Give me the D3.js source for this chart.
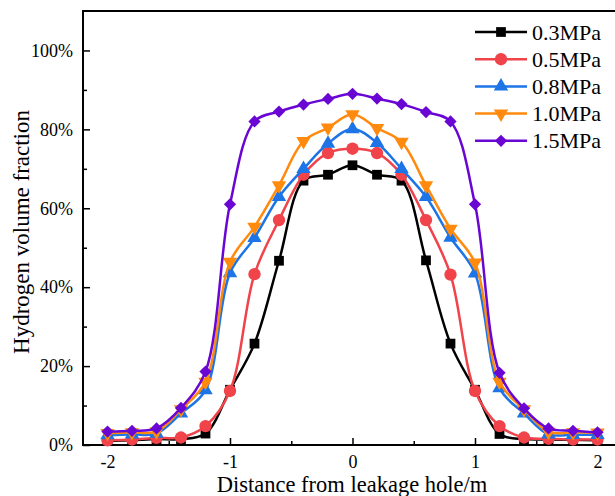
<!DOCTYPE html>
<html lang="en">
  <head>
    <meta charset="utf-8">
    <title>Hydrogen volume fraction</title>
    <script src="https://d3js.org/d3.v7.min.js"></script>
    <style>
      body{ margin:0; background:#fff; }
      text{ font-family:"Liberation Serif","Times New Roman",serif; fill:#000; }
    </style>
  </head>
  <body>
<svg id="chart"></svg>
<script>
// distance from leakage hole (m)
var distance = [-2,-1.8,-1.6,-1.4,-1.2,-1,-0.8,-0.6,-0.4,-0.2,0,0.2,0.4,0.6,0.8,1,1.2,1.4,1.6,1.8,2];
var seriesNames = ["0.3MPa","0.5MPa","0.8MPa","1.0MPa","1.5MPa"];
// hydrogen volume fraction, %
var p03 = [1.0,1.2,1.5,1.5,2.9,14.0,25.7,46.7,67.0,68.5,70.9,68.5,67.0,46.8,25.7,14.0,2.8,1.5,1.4,1.3,1.2];
var p05 = [1.2,1.4,1.8,1.9,4.8,13.7,43.3,57.0,68.5,74.0,75.1,74.0,68.5,57.0,43.2,13.7,4.8,1.9,1.6,1.4,1.4];
var p08 = [2.5,2.7,2.9,8.0,13.9,43.6,52.5,62.9,70.0,76.4,80.1,76.6,70.0,62.9,52.6,43.5,14.4,8.0,2.7,2.6,2.6];
var p10 = [3.0,3.2,3.4,9.0,16.0,46.4,55.3,65.8,77.0,80.4,83.8,80.3,76.8,65.8,54.8,46.2,16.0,9.0,3.3,3.2,3.1];
var p15 = [3.4,3.6,4.2,9.4,18.6,61.0,82.0,84.5,86.3,87.7,89.0,87.8,86.4,84.4,82.0,61.0,18.3,9.3,4.2,3.6,3.2];
var xTicks = [-2,-1,0,1,2];
var yTicks = [0,20,40,60,80,100];

var colors = ["#000000","#f0434a","#1c74e6","#ff8a0d","#6a06d4"];
var shapes = ["square","circle","triangle","down","diamond"];

var width = 615, height = 496;
var plotLeft = 83, plotTop = 11, plotBottom = 445, plotRight = 622;

var svg = d3.select("#chart").attr("width",width).attr("height",height);

var x = d3.scaleLinear().domain([-2.2,2.2]).range([plotLeft,plotRight]);
var y = d3.scaleLinear().domain([0,110]).range([plotBottom,plotTop]);

// minor ticks
svg.append("g")
   .attr("transform","translate(0,"+plotBottom+")")
   .call(d3.axisBottom(x).tickValues([-1.5,-0.5,0.5,1.5]).tickSize(-4).tickFormat(""))
   .call(function(g){ g.select(".domain").remove(); g.selectAll("line").attr("stroke-width",1.5); });
svg.append("g")
   .attr("transform","translate("+plotLeft+",0)")
   .call(d3.axisLeft(y).tickValues([10,30,50,70,90]).tickSize(-4).tickFormat(""))
   .call(function(g){ g.select(".domain").remove(); g.selectAll("line").attr("stroke-width",1.5); });

// major ticks
svg.append("g")
   .attr("transform","translate(0,"+plotBottom+")")
   .call(d3.axisBottom(x).tickValues(xTicks).tickSize(-7).tickPadding(10).tickFormat(function(d){ return String(d); }))
   .call(function(g){
     g.select(".domain").remove();
     g.selectAll("line").attr("stroke-width",1.5);
     g.selectAll("text").attr("font-size",18).attr("font-family","Liberation Serif");
   });
svg.append("g")
   .attr("transform","translate("+plotLeft+",0)")
   .call(d3.axisLeft(y).tickValues(yTicks).tickSize(-7).tickPadding(10).tickFormat(function(d){ return d+"%"; }))
   .call(function(g){
     g.select(".domain").remove();
     g.selectAll("line").attr("stroke-width",1.5);
     g.selectAll("text").attr("font-size",18).attr("font-family","Liberation Serif");
   });

// frame
svg.append("rect")
   .attr("x",plotLeft).attr("y",plotTop)
   .attr("width",plotRight-plotLeft).attr("height",plotBottom-plotTop)
   .attr("fill","none").attr("stroke","#000").attr("stroke-width",2);

function symbolPath(shape){
  if(shape==="square") return d3.symbol(d3.symbolSquare,95)();
  if(shape==="circle") return d3.symbol(d3.symbolCircle,120)();
  if(shape==="triangle") return d3.symbol(d3.symbolTriangle,90)();
  if(shape==="down") return d3.symbol(d3.symbolTriangle,90)();
  return d3.symbol(d3.symbolSquare,75)();
}
function symbolRotate(shape){
  if(shape==="down") return 180;
  if(shape==="diamond") return 45;
  return 0;
}

var allSeries = [p03,p05,p08,p10,p15];
var line = d3.line()
   .x(function(d,i){ return x(distance[i]); })
   .y(function(d){ return y(d); })
   .curve(d3.curveCatmullRom.alpha(0.5));

allSeries.forEach(function(vals,k){
  var g = svg.append("g");
  g.append("path")
   .datum(vals)
   .attr("d",line)
   .attr("fill","none")
   .attr("stroke",colors[k])
   .attr("stroke-width",2.5);
  g.selectAll("path.mk")
   .data(vals)
   .enter()
   .append("path")
   .attr("class","mk")
   .attr("d",symbolPath(shapes[k]))
   .attr("fill",colors[k])
   .attr("transform",function(d,i){
     return "translate("+x(distance[i])+","+y(d)+") rotate("+symbolRotate(shapes[k])+")";
   });
});

// legend
var legend = svg.selectAll("g.legend")
   .data(seriesNames)
   .enter()
   .append("g")
   .attr("class","legend")
   .attr("transform",function(d,i){ return "translate(475,"+(32+i*27.2)+")"; });
legend.append("line")
   .attr("x1",0).attr("x2",52).attr("y1",0).attr("y2",0)
   .attr("stroke",function(d,i){ return colors[i]; })
   .attr("stroke-width",2.5);
legend.append("path")
   .attr("d",function(d,i){ return symbolPath(shapes[i]); })
   .attr("fill",function(d,i){ return colors[i]; })
   .attr("transform",function(d,i){ return "translate(26,0) rotate("+symbolRotate(shapes[i])+")"; });
legend.append("text")
   .text(function(d){ return d; })
   .attr("x",57)
   .attr("y",7.5)
   .attr("font-size",22);

// axis titles
svg.append("text")
   .text("Distance from leakage hole/m")
   .attr("x",352)
   .attr("y",492)
   .attr("text-anchor","middle")
   .attr("font-size",22.5);
svg.append("text")
   .text("Hydrogen volume fraction")
   .attr("transform","translate(29,232) rotate(-90)")
   .attr("text-anchor","middle")
   .attr("font-size",23);
</script>
  </body>
</html>
